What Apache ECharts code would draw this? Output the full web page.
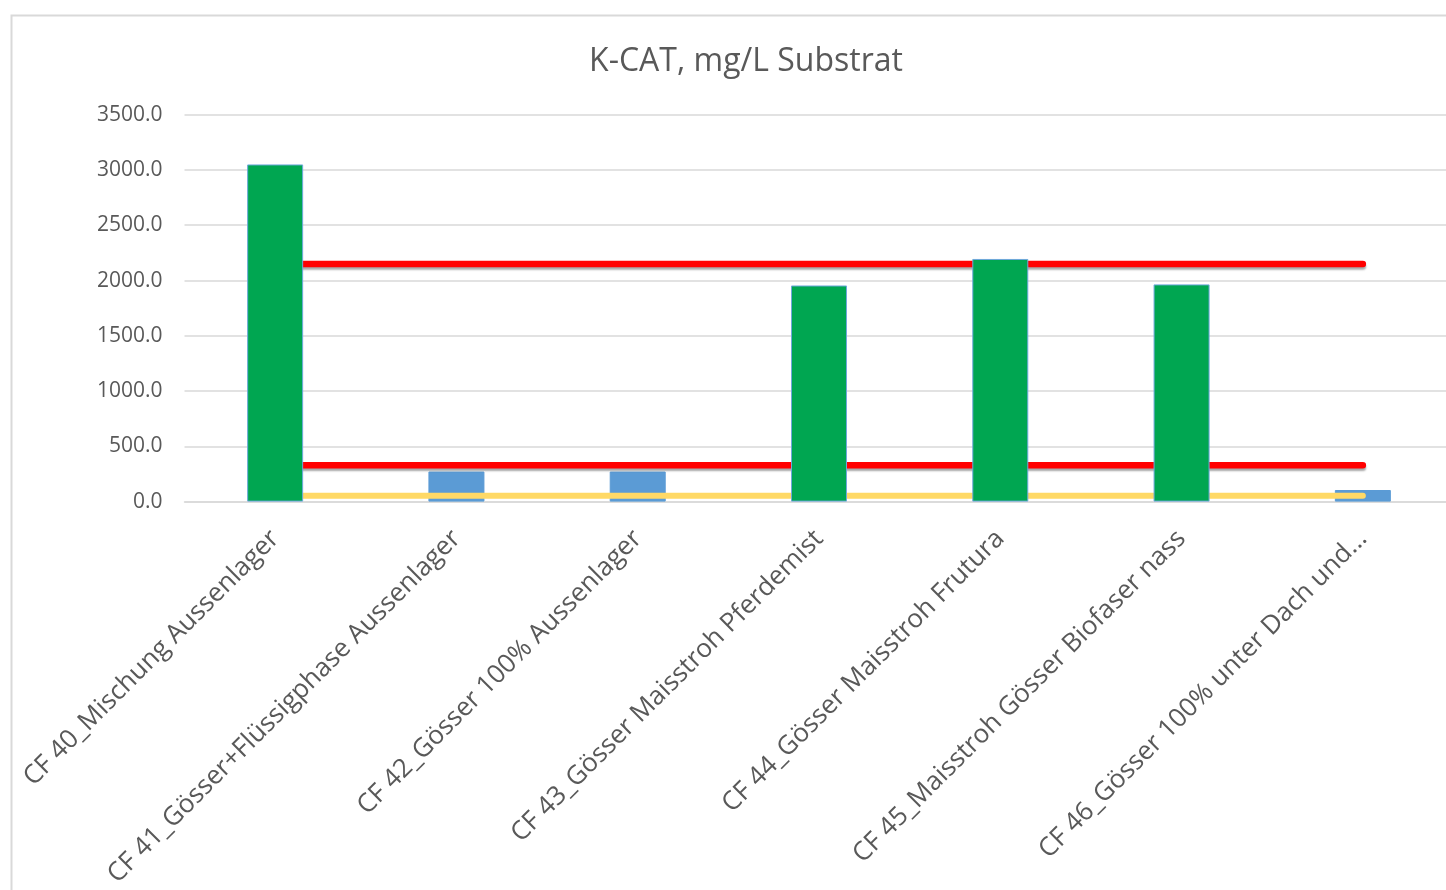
<!DOCTYPE html>
<html>
<head>
<meta charset="utf-8">
<style>
  html, body { margin: 0; padding: 0; background: #ffffff; overflow: hidden; }
  #chart { width: 1470px; height: 890px; }
</style>
<script src="https://cdn.jsdelivr.net/npm/echarts@6/dist/echarts.min.js"></script>
</head>
<body>
<div id="chart"></div>
<script>
const categories = [
  'CF 40_Mischung Aussenlager',
  'CF 41_Gösser+Flüssigphase Aussenlager',
  'CF 42_Gösser 100% Aussenlager',
  'CF 43_Gösser Maisstroh Pferdemist',
  'CF 44_Gösser Maisstroh Frutura',
  'CF 45_Maisstroh Gösser Biofaser nass',
  'CF 46_Gösser 100% unter Dach und...'
];
const blueValues  = [null, 272, 272, null, null, null, 105];
const greenValues = [3050, null, null, 1955, 2195, 1965, null];
const redUpper    = [2150, 2150, 2150, 2150, 2150, 2150, 2150];
const redLower    = [330, 330, 330, 330, 330, 330, 330];
const yellowLine  = [52, 52, 52, 52, 52, 52, 52];
const yTicks = { min: 0, max: 3500, interval: 500 };

const chart = echarts.init(document.getElementById('chart'), null, { renderer: 'canvas' });
const font = 'Open Sans';
chart.setOption({
  animation: false,
  backgroundColor: '#ffffff',
  title: {
    text: 'K-CAT, mg/L Substrat',
    left: 741, top: 41, textAlign: 'center',
    textStyle: { fontFamily: font, fontSize: 32, fontWeight: 'normal', color: '#595959' }
  },
  graphic: [{
    type: 'rect', silent: true, z: -10,
    shape: { x: 11.5, y: 15.5, width: 1600, height: 1000 },
    style: { fill: 'none', stroke: '#d9d9d9', lineWidth: 2 }
  }],
  grid: { left: 184.5, top: 114.7, width: 1269, height: 387.8, containLabel: false },
  xAxis: {
    type: 'category',
    data: categories,
    boundaryGap: true,
    axisLine: { lineStyle: { color: '#d9d9d9', width: 1.5 } },
    axisTick: { show: false },
    axisLabel: {
      interval: 0, rotate: 45, margin: 33,
      fontFamily: font, fontSize: 26, color: '#595959'
    }
  },
  yAxis: {
    type: 'value',
    min: yTicks.min, max: yTicks.max, interval: yTicks.interval,
    axisLine: { show: false },
    axisTick: { show: false },
    splitLine: { lineStyle: { color: '#d9d9d9', width: 1.5 } },
    axisLabel: {
      margin: 22, fontFamily: font, fontSize: 21, color: '#595959',
      formatter: v => v.toFixed(1)
    }
  },
  series: [
    {
      name: 'blue', type: 'bar', stack: 'k', data: blueValues, barWidth: 56, z: 1,
      itemStyle: { color: '#5b9bd5', borderColor: '#5b9bd5', borderWidth: 1 }
    },
    {
      name: 'redUpper', type: 'line', data: redUpper, symbol: 'none', z: 3,
      lineStyle: { color: '#ff0000', width: 6.5, cap: 'round',
        shadowColor: 'rgba(0,0,0,0.35)', shadowBlur: 2, shadowOffsetY: 2.5 }
    },
    {
      name: 'redLower', type: 'line', data: redLower, symbol: 'none', z: 3,
      lineStyle: { color: '#ff0000', width: 6.5, cap: 'round',
        shadowColor: 'rgba(0,0,0,0.35)', shadowBlur: 2, shadowOffsetY: 2.5 }
    },
    {
      name: 'yellow', type: 'line', data: yellowLine, symbol: 'none', z: 3,
      lineStyle: { color: '#ffd966', width: 6, cap: 'round' }
    },
    {
      name: 'green', type: 'bar', stack: 'k', data: greenValues, barWidth: 56, z: 5,
      itemStyle: { color: '#00a651', borderColor: '#6fa8dc', borderWidth: 1 }
    }
  ]
});
</script>
</body>
</html>
